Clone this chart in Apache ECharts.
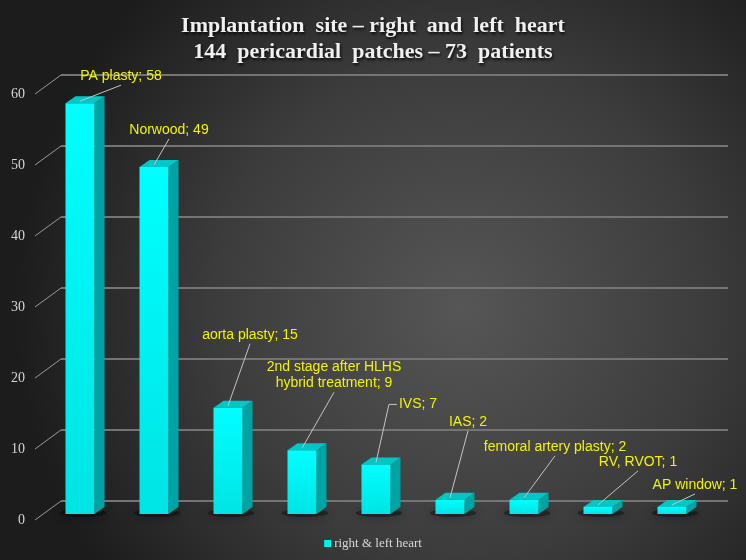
<!DOCTYPE html>
<html>
<head>
<meta charset="utf-8">
<script src="https://cdn.jsdelivr.net/npm/echarts@6/dist/echarts.min.js"></script>
<style>
  html, body { margin: 0; padding: 0; background: #2a2a2a; }
  #chart { width: 746px; height: 560px; }
</style>
</head>
<body>
<div id="chart"></div>
<script>
'use strict';

// data
const categories = ['PA plasty', 'Norwood', 'aorta plasty', '2nd stage after HLHS\nhybrid treatment',
    'IVS', 'IAS', 'femoral artery plasty', 'RV, RVOT', 'AP window'];
const counts = [58, 49, 15, 9, 7, 2, 2, 1, 1];
const yTicks = [0, 10, 20, 30, 40, 50, 60];
const seriesName = 'right & left heart';

// label placement (px from top of each bar), 'left' = leader line ends at text left side
const labelOffsets = [[41, -27], [15, -37], [22, -73], [32, -75], [42, -60], [18, -78], [31, -53], [40, -45], [23, -22]];
const leaderSide = ['b', 'b', 'b', 'b', 'left', 'b', 'b', 'b', 'b'];

const LABEL_FONT = '14px "Liberation Sans", Arial, sans-serif';
const measureCtx = document.createElement('canvas').getContext('2d');
measureCtx.font = LABEL_FONT;

const chart = echarts.init(document.getElementById('chart'));

// 3d bar
function renderBar(params, api) {
    const base = api.coord([api.value(0), 0]);
    const top = api.coord([api.value(0), api.value(1)]);
    const w = 29, d = 10, dy = 7;
    const x = base[0] - w / 2;
    const y0 = top[1], y1 = base[1];
    return {
        type: 'group',
        children: [
            {
                // soft shadow on the floor
                type: 'ellipse',
                shape: { cx: x + w / 2 + 3, cy: y1 - 1, rx: w / 2 + 9, ry: 4 },
                style: { fill: 'rgba(0,0,0,0.35)', shadowBlur: 10, shadowColor: 'rgba(0,0,0,0.9)' },
                z2: 1
            },
            {
                type: 'polygon',
                shape: { points: [[x + w, y0], [x + w + d, y0 - dy], [x + w + d, y1 - dy], [x + w, y1]] },
                style: { fill: '#00a3a3' },
                z2: 2
            },
            {
                type: 'polygon',
                shape: { points: [[x, y0], [x + d, y0 - dy], [x + w + d, y0 - dy], [x + w, y0]] },
                style: { fill: '#00c6c6' },
                z2: 2
            },
            {
                type: 'rect',
                shape: { x: x, y: y0, width: w, height: y1 - y0 },
                style: {
                    fill: new echarts.graphic.LinearGradient(0, 0, 0, 1, [
                        { offset: 0, color: '#00ffff' },
                        { offset: 1, color: '#00e4e4' }
                    ])
                },
                z2: 3
            }
        ]
    };
}

// yellow labels with leader lines
function renderLabel(params, api) {
    const i = params.dataIndex;
    const top = api.coord([api.value(0), api.value(1)]);
    const off = labelOffsets[i];
    const cx = top[0] + off[0];
    const cy = top[1] + off[1];
    const text = categories[i] + '; ' + counts[i];
    const lines = text.split('\n');
    const halfH = lines.length * 8;
    let maxW = 0;
    lines.forEach(l => { maxW = Math.max(maxW, measureCtx.measureText(l).width); });
    const start = [top[0], top[1] - 2];
    let pts;
    if (leaderSide[i] === 'left') {
        const left = cx - maxW / 2;
        pts = [start, [left - 10, cy], [left - 2, cy]];
    } else {
        pts = [start, [cx, cy + halfH + 1]];
    }
    return {
        type: 'group',
        children: [
            {
                type: 'polyline',
                shape: { points: pts },
                style: { stroke: '#c4c4c4', lineWidth: 1, fill: null }
            },
            {
                type: 'text',
                style: {
                    text: text, x: cx, y: cy, align: 'center', verticalAlign: 'middle',
                    font: LABEL_FONT, fill: '#f2f20c', lineHeight: 16
                }
            }
        ]
    };
}

// diagonal tick lines + tick labels on the front edge
function renderTick(params, api) {
    const p = api.coord([0, api.value(1)]);
    const q = [p[0] - 26, p[1] + 19];
    return {
        type: 'group',
        children: [
            { type: 'line', shape: { x1: p[0], y1: p[1], x2: q[0], y2: q[1] }, style: { stroke: '#9a9a9a', lineWidth: 1 } },
            {
                type: 'text',
                style: {
                    text: String(api.value(1)), x: q[0] - 10, y: q[1], align: 'right', verticalAlign: 'middle',
                    font: '14px "Liberation Serif", "Times New Roman", serif', fill: '#d6d6d6'
                }
            }
        ]
    };
}

let option = {
    backgroundColor: new echarts.graphic.RadialGradient(0.62, 0.55, 0.8, [
        { offset: 0, color: '#565656' },
        { offset: 0.55, color: '#3c3c3c' },
        { offset: 1, color: '#1c1c1c' }
    ]),
    animation: false,
    title: {
        text: 'Implantation  site – right  and  left  heart\n144  pericardial  patches – 73  patients',
        left: 'center',
        top: 8,
        textStyle: {
            fontFamily: '"Liberation Serif", "Times New Roman", serif',
            fontWeight: 'bold',
            fontSize: 22,
            lineHeight: 26,
            color: '#f0f0f0',
            textShadowColor: 'rgba(0,0,0,0.9)',
            textShadowBlur: 3,
            textShadowOffsetX: 1,
            textShadowOffsetY: 2
        }
    },
    legend: {
        data: [seriesName],
        bottom: 5,
        left: 'center',
        icon: 'rect',
        itemWidth: 7,
        itemHeight: 7,
        itemGap: 4,
        textStyle: { fontFamily: '"Liberation Serif", "Times New Roman", serif', fontSize: 13, color: '#d8d8d8', padding: [0, 0, 0, -2] }
    },
    grid: [
        { left: 61, right: 18, top: 75, bottom: 59 },   // back wall
        { left: 43, right: 37, top: 89, bottom: 46 }    // bars
    ],
    xAxis: [
        { gridIndex: 0, type: 'value', min: 0, max: 1, show: false },
        { gridIndex: 1, type: 'category', data: categories, show: false }
    ],
    yAxis: [
        {
            gridIndex: 0, type: 'value', min: 0, max: 60, interval: 10,
            axisLine: { show: false }, axisTick: { show: false }, axisLabel: { show: false },
            splitLine: { lineStyle: { color: '#747474', width: 2 } }
        },
        { gridIndex: 1, type: 'value', min: 0, max: 60, interval: 10, show: false }
    ],
    series: [
        {
            type: 'custom',
            xAxisIndex: 0, yAxisIndex: 0,
            renderItem: renderTick,
            data: yTicks.map(v => [0, v]),
            silent: true
        },
        {
            name: seriesName,
            type: 'custom',
            xAxisIndex: 1, yAxisIndex: 1,
            renderItem: renderBar,
            itemStyle: { color: '#00f0f0' },
            data: counts.map((v, i) => [i, v])
        },
        {
            type: 'custom',
            xAxisIndex: 1, yAxisIndex: 1,
            renderItem: renderLabel,
            data: counts.map((v, i) => [i, v]),
            z: 5
        }
    ]
};

chart.setOption(option);
</script>
</body>
</html>
